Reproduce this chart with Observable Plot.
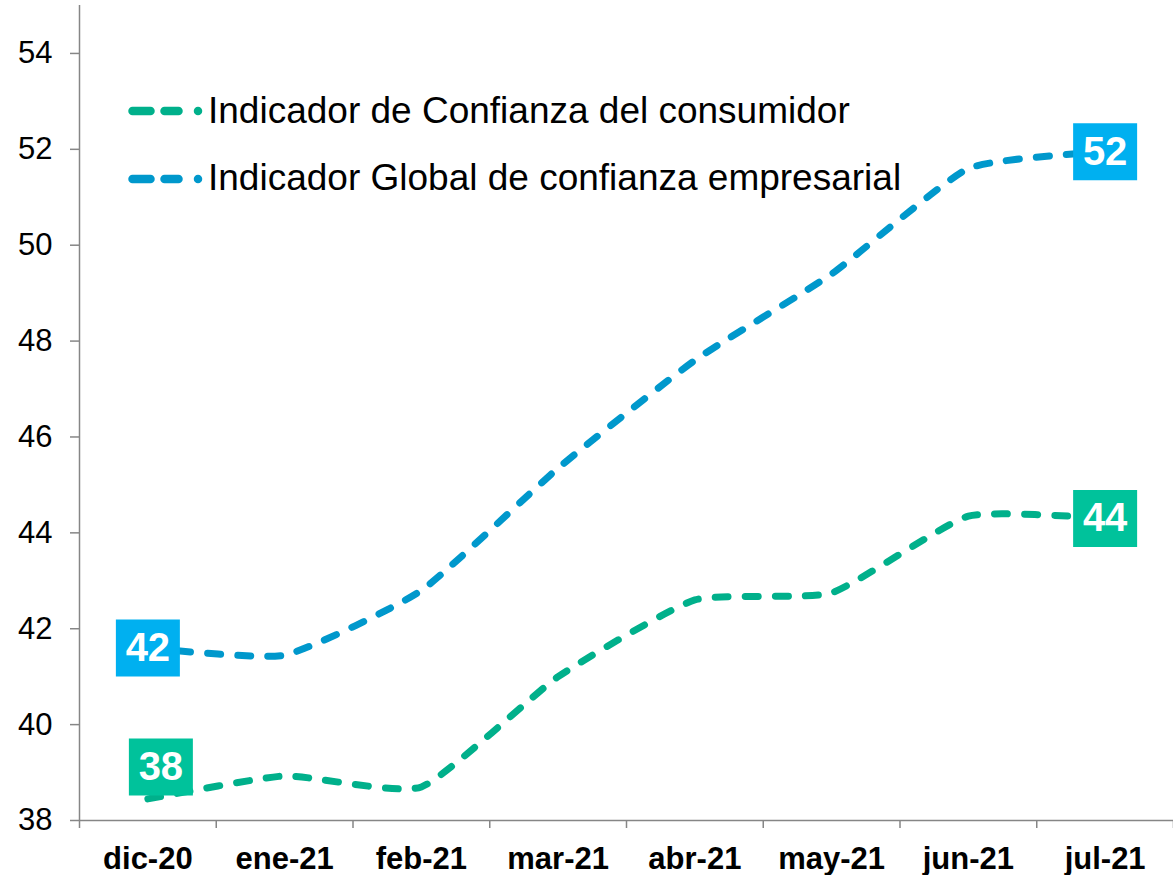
<!DOCTYPE html>
<html><head><meta charset="utf-8">
<script src="https://cdn.jsdelivr.net/npm/d3@7"></script>
<script src="https://cdn.jsdelivr.net/npm/@observablehq/plot@0.6"></script>
<style>
html,body{margin:0;padding:0;background:#fff;}
#wrap{position:relative;width:1173px;height:875px;font-family:"Liberation Sans",Arial,sans-serif;}
#legend{position:absolute;left:0;top:0;pointer-events:none;}
</style></head><body><div id="wrap"></div>
<script>
// ---- data ----
const months = ["dic-20","ene-21","feb-21","mar-21","abr-21","may-21","jun-21","jul-21"];
const consumidor = [38.45, 38.93, 38.70, 41.0, 42.6, 42.75, 44.35, 44.3];
const empresarial = [41.6, 41.45, 42.8, 45.35, 47.6, 49.4, 51.6, 51.95];
const seriesNames = ["Indicador de Confianza del consumidor", "Indicador Global de confianza empresarial"];
const yTicks = [38, 40, 42, 44, 46, 48, 50, 52, 54];
// value labels: which series, which month index, text
const labelsConsumidor = [{idx: 7, text: "44"}];
const labelsConsumidorOffset = [{idx: 0, text: "38"}];
const labelsEmpresarial = [{idx: 0, text: "42"}, {idx: 7, text: "52"}];

// ---- styles ----
const lineColors = ["#00b08b", "#0098cc"];
const boxColors = ["#00c29b", "#00b0f0"];
const axisGray = "#868686";
const font = '"Liberation Sans", Arial, sans-serif';

const rows = months.flatMap((m, i) => [
  {x: i + 0.5, y: consumidor[i], s: seriesNames[0]},
  {x: i + 0.5, y: empresarial[i], s: seriesNames[1]}
]);

const boxSymbol = {
  draw(ctx) {
    ctx.moveTo(-32, -28.5); ctx.lineTo(32, -28.5); ctx.lineTo(32, 28.5); ctx.lineTo(-32, 28.5); ctx.closePath();
  }
};

function labelMarks(list, values, fill, dx = 0, dy = 0) {
  const data = list.map(d => ({x: d.idx + 0.5, y: values[d.idx], text: d.text}));
  return [
    Plot.dot(data, {x: "x", y: "y", symbol: boxSymbol, fill, stroke: "none", dx, dy}),
    Plot.text(data, {x: "x", y: "y", text: "text", fill: "white", fontWeight: "bold", fontSize: 40, dx, dy, fontFamily: font})
  ];
}

const chart = Plot.plot({
  width: 1173,
  height: 875,
  marginLeft: 79,
  marginRight: 0,
  marginTop: 5,
  marginBottom: 55,
  style: {fontFamily: font, fontSize: "31px", color: "black", background: "white"},
  x: {domain: [0, months.length]},
  y: {domain: [38, 55]},
  color: {domain: seriesNames, range: lineColors},
  marks: [
    Plot.axisY({ticks: yTicks, tickSize: 9, tickPadding: 18, fontSize: 31, stroke: axisGray, strokeWidth: 1.5, fill: "black", label: null, fontFamily: font}),
    Plot.axisX({ticks: d3.range(0, months.length + 1), tickSize: 8, tickFormat: () => "", stroke: axisGray, strokeWidth: 1.5, label: null}),
    Plot.axisX({ticks: months.map((m, i) => i + 0.5), tickSize: 0, tickPadding: 26, tickFormat: d => months[Math.floor(d)], fontSize: 31, fontWeight: "bold", fill: "black", label: null, fontFamily: font}),
    Plot.ruleY([38], {stroke: axisGray, strokeWidth: 1.5}),
    Plot.ruleX([0], {stroke: axisGray, strokeWidth: 1.5}),
    Plot.line(rows, {x: "x", y: "y", z: "s", stroke: "s", strokeWidth: 7, strokeDasharray: "13,17", strokeLinecap: "round", curve: "cardinal", tension: 0.5}),
    ...labelMarks(labelsConsumidor, consumidor, boxColors[0]),
    ...labelMarks(labelsConsumidorOffset, consumidor, boxColors[0], 13, -32),
    ...labelMarks(labelsEmpresarial, empresarial, boxColors[1])
  ]
});

const wrap = document.getElementById("wrap");
wrap.appendChild(chart);

// legend overlay
const ns = "http://www.w3.org/2000/svg";
const leg = document.createElementNS(ns, "svg");
leg.setAttribute("id", "legend");
leg.setAttribute("width", 1173);
leg.setAttribute("height", 875);
const legRows = [{y: 111, base: 123}, {y: 179, base: 190}];
seriesNames.forEach((name, k) => {
  const g = document.createElementNS(ns, "g");
  [[132.5, 150.5], [164.5, 178.5], [198, 198]].forEach(([a, b]) => {
    const l = document.createElementNS(ns, "line");
    l.setAttribute("x1", a); l.setAttribute("x2", b);
    l.setAttribute("y1", legRows[k].y); l.setAttribute("y2", legRows[k].y);
    l.setAttribute("stroke", lineColors[k]);
    l.setAttribute("stroke-width", 8.5);
    l.setAttribute("stroke-linecap", "round");
    g.appendChild(l);
  });
  const t = document.createElementNS(ns, "text");
  t.setAttribute("x", 208); t.setAttribute("y", legRows[k].base);
  t.setAttribute("font-size", 37);
  t.setAttribute("font-family", font);
  t.setAttribute("fill", "black");
  t.textContent = name;
  g.appendChild(t);
  leg.appendChild(g);
});
wrap.appendChild(leg);
</script>
</body></html>
